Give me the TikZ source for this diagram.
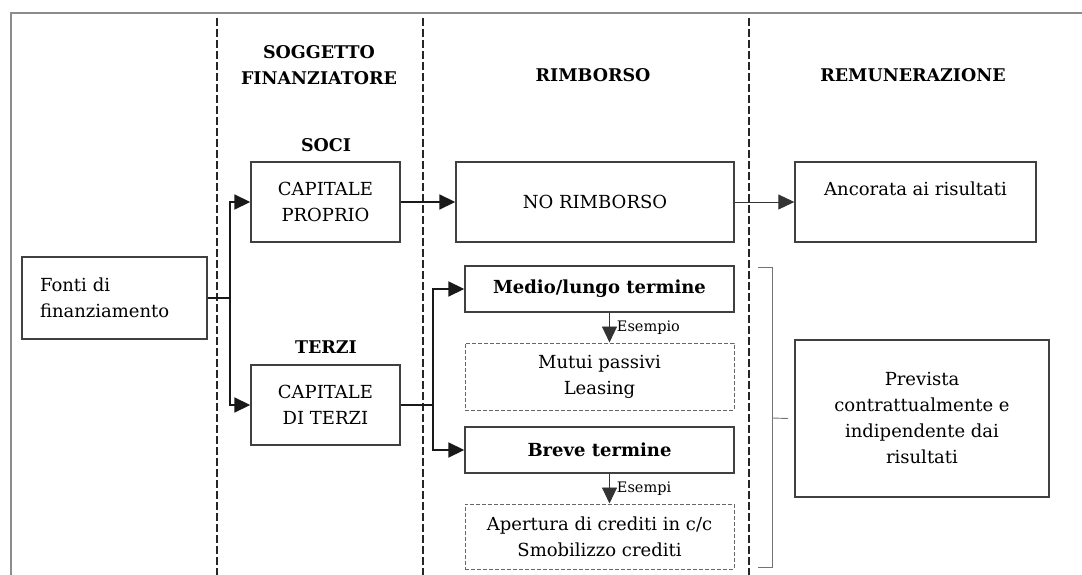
\documentclass[tikz,border=0pt]{standalone}
\usepackage{fontspec}
\setmainfont{DejaVu Serif}
\usetikzlibrary{arrows.meta}

\begin{document}
\begin{tikzpicture}[x=1pt, y=-1pt,
	every node/.style={font=\fontsize{18}{26}\selectfont, align=center, text=black},
	header/.style={font=\fontsize{17.5}{26}\selectfont\bfseries},
	box/.style={draw=black!75, line width=1.4pt, inner sep=0pt},
	dbox/.style={draw=black!60, line width=1pt, dash pattern=on 4pt off 2pt, inner sep=0pt},
	lbl/.style={font=\fontsize{14.5}{16}\selectfont, inner sep=2pt, xshift=5pt},
	arr/.style={-{Triangle[length=16pt,width=15pt]}, line width=1.8pt, draw=black!90},
	tarr/.style={-{Triangle[length=16pt,width=15pt]}, line width=0.9pt, draw=black!80},
	colsep/.style={draw=black!85, line width=1.1pt, dash pattern=on 8pt off 3pt},
	brk/.style={draw=black!55, line width=0.9pt}]
\fill[white] (0,0) rectangle (1082,575);
\useasboundingbox (0,0) rectangle (1082,575);
\draw[black!45, line width=1.5pt] (11,575) -- (11,13) -- (1082,13);
\draw[colsep] (217,18) -- (217,575);
\draw[colsep] (423,18) -- (423,575);
\draw[colsep] (749,18) -- (749,575);

\node[header] (hsog) at (319,65) {SOGGETTO\\FINANZIATORE};
\node[header] (hrim) at (593,75) {RIMBORSO};
\node[header] (hrem) at (913,75) {REMUNERAZIONE};
\node[header] (soci) at (326,145) {SOCI};
\node[header] (terzi) at (326,347) {TERZI};

\node[box, align=left, text width=149, inner xsep=18, minimum height=82] (fonti) at (114.5,298) {Fonti di\\finanziamento};
\node[box, minimum width=149, minimum height=80] (cp) at (325.5,202) {CAPITALE\\PROPRIO};
\node[box, minimum width=149, minimum height=80] (ct) at (325.5,405) {CAPITALE\\DI TERZI};
\node[box, minimum width=278, minimum height=80] (norimb) at (595,202) {NO RIMBORSO};
\node[box, minimum width=241, minimum height=80] (ancor) at (915.5,202) {Ancorata ai risultati\\~};
\node[box, minimum width=269, minimum height=46, font=\fontsize{18}{26}\selectfont\bfseries] (medio) at (599.5,289) {Medio/lungo termine};
\node[dbox, minimum width=269, minimum height=67] (mutui) at (599.5,376.5) {Mutui passivi\\Leasing};
\node[box, minimum width=269, minimum height=46, font=\fontsize{18}{26}\selectfont\bfseries] (breve) at (599.5,450) {Breve termine};
\node[dbox, minimum width=269, minimum height=65] (apert) at (599.5,536.5) {Apertura di crediti in c/c\\Smobilizzo crediti};
\node[box, minimum width=254, minimum height=157] (prev) at (922,418.5) {Prevista\\contrattualmente e\\indipendente dai\\risultati};

\draw[arr] (fonti.east) -- ++(22,0) coordinate (jf) |- (cp.west);
\draw[arr] (jf) |- (ct.west);
\draw[arr] (ct.east) -- ++(32,0) coordinate (jt) |- (medio.west);
\draw[arr] (jt) |- (breve.west);
\draw[arr] (cp.east) -- (norimb.west);
\draw[tarr] (norimb.east) -- (ancor.west);
\draw[tarr] ([xshift=10]medio.south) -- node[right, lbl] {Esempio} ([xshift=10]mutui.north);
\draw[tarr] ([xshift=10]breve.south) -- node[right, lbl] {Esempi} ([xshift=10]apert.north);
\draw[brk] (758,267) -- (772,267) -- (772,567) -- (758,567);
\draw[brk] (772,418) -- (prev.west -| 788,0);
\end{tikzpicture}
\end{document}
